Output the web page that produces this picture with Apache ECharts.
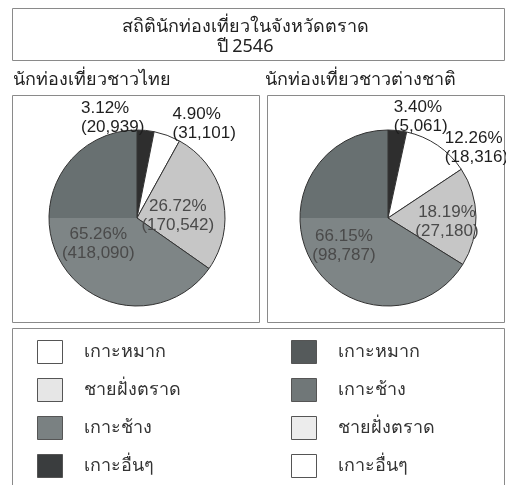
<!DOCTYPE html>
<html>
<head>
<meta charset="utf-8">
<script src="https://cdn.jsdelivr.net/npm/echarts@6/dist/echarts.min.js"></script>
<style>
  html, body { margin: 0; padding: 0; background: #fff; }
  #chart { width: 506px; height: 485px; }
</style>
</head>
<body>
<div id="chart"></div>
<script>
// ข้อมูลจากภาพ
var regions = ['เกาะอื่นๆ', 'เกาะหมาก', 'ชายฝั่งตราด', 'เกาะช้าง'];
var thaiPercent = [3.12, 4.90, 26.72, 65.26];
var thaiCount = [20939, 31101, 170542, 418090];
var foreignPercent = [3.40, 12.26, 18.19, 66.15];
var foreignCount = [5061, 18316, 27180, 98787];
var legendLeftNames = ['เกาะหมาก', 'ชายฝั่งตราด', 'เกาะช้าง', 'เกาะอื่นๆ'];
var legendRightNames = ['เกาะหมาก', 'เกาะช้าง', 'ชายฝั่งตราด', 'เกาะอื่นๆ'];

var FONT = '"Liberation Sans", "Noto Sans", sans-serif';
var THAI = '"Noto Sans", sans-serif';
var BLACK = '#2e2e2e', WHITE = '#ffffff', LIGHT = '#c6c6c6', MID = '#7a8182';
// ครึ่งบนของส่วนสีเทาเข้มกว่าในภาพสแกน
var midFill = {
    type: 'linear', x: 0, y: 0, x2: 0, y2: 485, global: true,
    colorStops: [
        { offset: 0, color: '#687071' }, { offset: 0.449, color: '#687071' },
        { offset: 0.449, color: '#7e8586' }, { offset: 1, color: '#7e8586' }
    ]
};
var sliceColors = [BLACK, WHITE, LIGHT, midFill];
var legendColorLeft = { 'เกาะหมาก': WHITE, 'ชายฝั่งตราด': '#e6e6e6', 'เกาะช้าง': MID, 'เกาะอื่นๆ': '#3a3d3e' };
var legendColorRight = { 'เกาะหมาก': '#555a5b', 'เกาะช้าง': '#707778', 'ชายฝั่งตราด': '#ececec', 'เกาะอื่นๆ': WHITE };

function fmt(n) { return n.toLocaleString('en-US'); }

function pieData(percent, count) {
    return percent.map(function (p, i) {
        var inside = i >= 2;
        return {
            name: regions[i],
            value: p,
            count: count[i],
            itemStyle: { color: sliceColors[i] },
            label: {
                position: inside ? 'inside' : 'outside',
                align: 'center',
                color: inside ? '#4a4a4a' : '#1e1e1e'
            }
        };
    });
}

// เลื่อนป้ายเล็กน้อย [dx, dy] ต่อชิ้น
var nudgeThai = [[-70, -9], [-1, -8], [-5, 8], [3, 4]];
var nudgeForeign = [[-9, -10], [0, 6], [12, 5], [-3, 5]];

function makePie(center, percent, count, nudge) {
    return {
        type: 'pie',
        center: center,
        radius: 88,
        startAngle: 90,
        clockwise: true,
        silent: true,
        avoidLabelOverlap: false,
        data: pieData(percent, count),
        itemStyle: { borderColor: '#333', borderWidth: 1 },
        label: {
            fontFamily: FONT,
            fontSize: 17,
            lineHeight: 19,
            overflow: 'none',
            formatter: function (p) {
                return p.value.toFixed(2) + '%\n(' + fmt(p.data.count) + ')';
            }
        },
        labelLine: { show: false, length: 4, length2: 0 },
        labelLayout: function (params) {
            var d = nudge[params.dataIndex];
            return { dx: d[0], dy: d[1] };
        }
    };
}

function legendData(names, colors) {
    return names.map(function (n) {
        return { name: n, itemStyle: { color: colors[n], borderColor: '#555', borderWidth: 1 } };
    });
}

var legendCommon = {
    orient: 'vertical',
    icon: 'rect',
    itemWidth: 25,
    itemHeight: 23,
    itemGap: 14,
    padding: 0,
    height: 140,
    selectedMode: false,
    textStyle: { fontFamily: THAI, fontSize: 18, color: '#333', padding: [0, 0, 0, 16] }
};

var myChart = echarts.init(document.getElementById('chart'));
myChart.setOption({
    backgroundColor: '#fff',
    animation: false,
    title: [
        {
            text: 'สถิตินักท่องเที่ยวในจังหวัดตราด\nปี 2546',
            left: 240, top: 12, textAlign: 'center',
            textStyle: { fontFamily: THAI, fontSize: 18, fontWeight: 'normal', color: '#222', lineHeight: 20 }
        },
        {
            text: 'นักท่องเที่ยวชาวไทย', left: 8, top: 66,
            textStyle: { fontFamily: THAI, fontSize: 18, fontWeight: 'normal', color: '#222' }
        },
        {
            text: 'นักท่องเที่ยวชาวต่างชาติ', left: 260, top: 66,
            textStyle: { fontFamily: THAI, fontSize: 18, fontWeight: 'normal', color: '#222' }
        }
    ],
    graphic: [
        { type: 'rect', shape: { x: 12.5, y: 8.5, width: 492, height: 52 }, style: { fill: 'none', stroke: '#8a8a8a', lineWidth: 1 } },
        { type: 'rect', shape: { x: 12.5, y: 95.5, width: 247, height: 227 }, style: { fill: 'none', stroke: '#8a8a8a', lineWidth: 1 } },
        { type: 'rect', shape: { x: 267.5, y: 95.5, width: 237, height: 227 }, style: { fill: 'none', stroke: '#8a8a8a', lineWidth: 1 } },
        { type: 'rect', shape: { x: 12.5, y: 328.5, width: 492, height: 160 }, style: { fill: 'none', stroke: '#8a8a8a', lineWidth: 1 } }
    ],
    legend: [
        Object.assign({ left: 37, top: 340, data: legendData(legendLeftNames, legendColorLeft) }, legendCommon),
        Object.assign({ left: 291, top: 340, data: legendData(legendRightNames, legendColorRight) }, legendCommon)
    ],
    series: [
        makePie([137, 218], thaiPercent, thaiCount, nudgeThai),
        makePie([388, 218], foreignPercent, foreignCount, nudgeForeign)
    ]
});
</script>
</body>
</html>
